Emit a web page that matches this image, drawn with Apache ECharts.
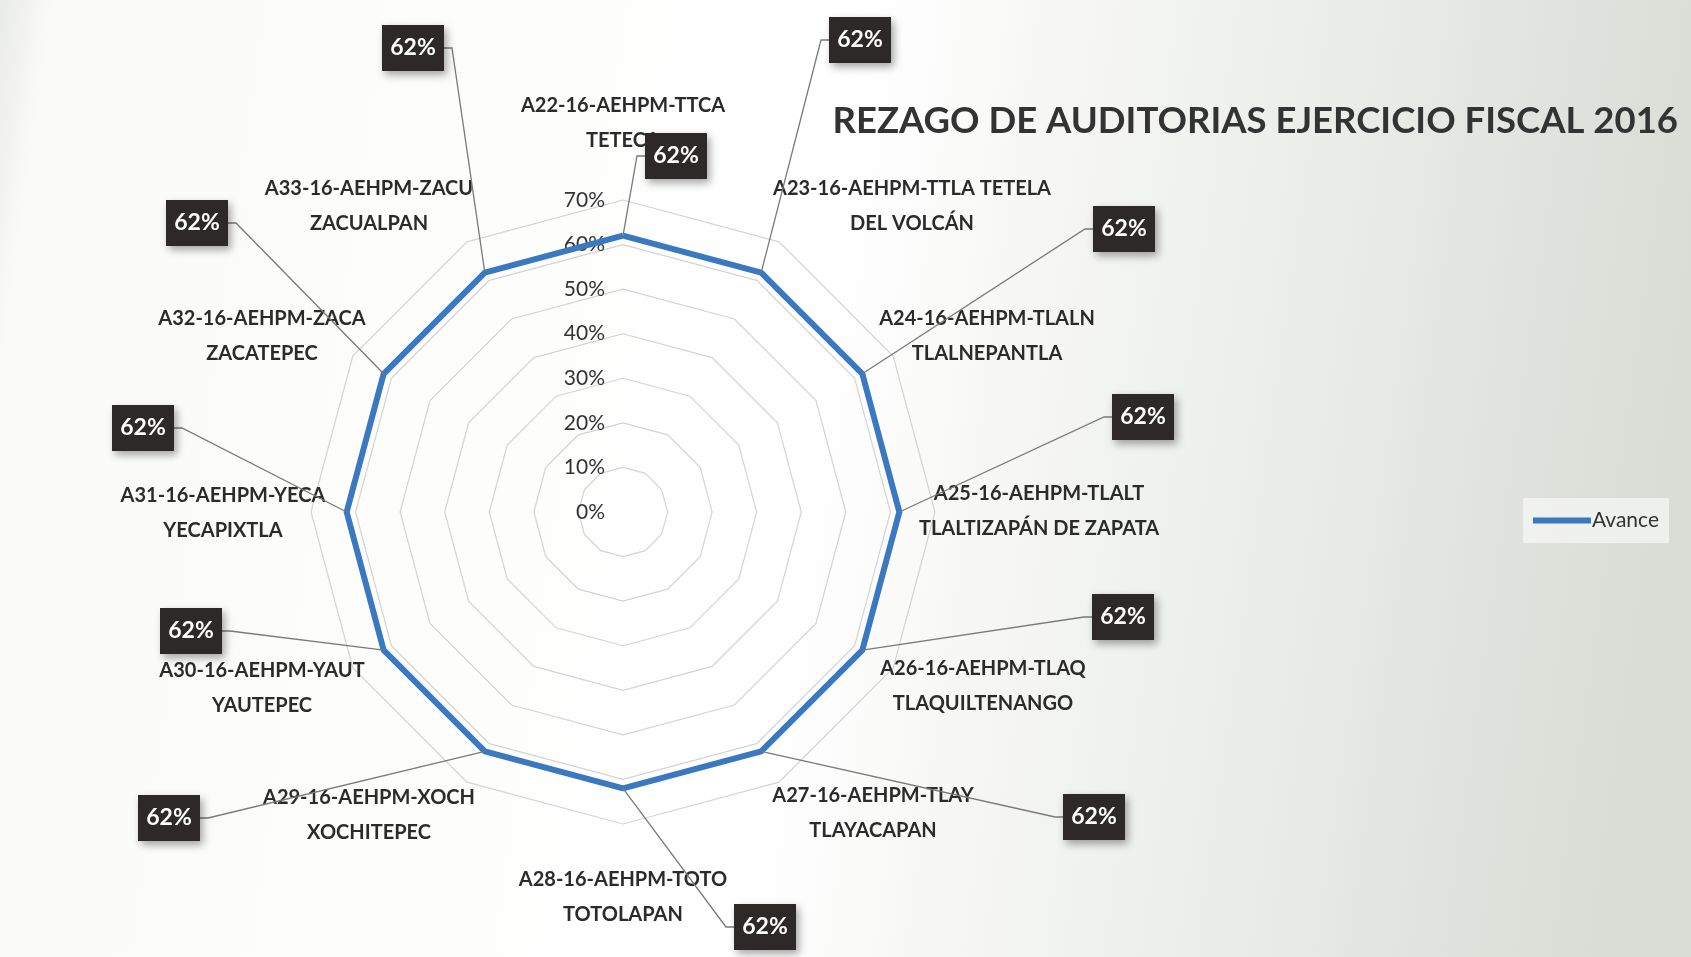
<!DOCTYPE html>
<html>
<head>
<meta charset="utf-8">
<title>Rezago de auditorias</title>
<script src="https://cdn.jsdelivr.net/npm/echarts@6/dist/echarts.min.js"></script>
<style>
  html, body { margin: 0; padding: 0; }
  #chart { width: 1691px; height: 957px; }
</style>
</head>
<body>
<div id="chart"></div>
<script>
// categories in clockwise order, starting at the top
const audits = [
  "A22-16-AEHPM-TTCA\nTETECA",
  "A23-16-AEHPM-TTLA TETELA\nDEL VOLCÁN",
  "A24-16-AEHPM-TLALN\nTLALNEPANTLA",
  "A25-16-AEHPM-TLALT\nTLALTIZAPÁN DE ZAPATA",
  "A26-16-AEHPM-TLAQ\nTLAQUILTENANGO",
  "A27-16-AEHPM-TLAY\nTLAYACAPAN",
  "A28-16-AEHPM-TOTO\nTOTOLAPAN",
  "A29-16-AEHPM-XOCH\nXOCHITEPEC",
  "A30-16-AEHPM-YAUT\nYAUTEPEC",
  "A31-16-AEHPM-YECA\nYECAPIXTLA",
  "A32-16-AEHPM-ZACA\nZACATEPEC",
  "A33-16-AEHPM-ZACU\nZACUALPAN"
];
const avance = [62, 62, 62, 62, 62, 62, 62, 62, 62, 62, 62, 62];
const scaleMax = 70;
const scaleStep = 10;

// layout only: px offsets from the chart centre for each category name and value box
const nameOffsets = [
  [0, -389], [289, -306], [364, -176], [416, -1], [360, 174], [250, 301],
  [0, 385], [-254, 303], [-361, 176], [-400, 1], [-361, -176], [-254, -306]
];
const boxOffsets = [
  [53, -356], [237, -472], [501, -283], [520, -95], [500, 105], [471, 305],
  [142, 415], [-454, 306], [-432, 119], [-480, -84], [-426, -289], [-210, -464]
];

const CENTER = [623, 512];
const RADIUS = 312;
const FONT = "Lato, 'Open Sans', sans-serif";

// radar lays indicators out counter-clockwise, so feed them reversed after the first
const order = audits.map((_, i) => (i === 0 ? 0 : audits.length - i));

function renderCategory(params, api) {
  const i = params.dataIndex;
  const p = api.coord([api.value(0), api.value(1)]);
  const c = api.coord([0, 0]);
  const bx = c[0] + boxOffsets[i][0];
  const by = c[1] + boxOffsets[i][1];
  const w = 62, h = 46;
  const edge = bx > p[0] ? bx - w / 2 : bx + w / 2;
  const elbow = bx > p[0] ? edge - 8 : edge + 8;
  return {
    type: "group",
    children: [
      {
        type: "text",
        x: c[0] + nameOffsets[i][0],
        y: c[1] + nameOffsets[i][1],
        style: {
          text: audits[i],
          fill: "#2b2b2b",
          font: "bold 20px " + FONT,
          lineHeight: 35,
          align: "center",
          verticalAlign: "middle"
        }
      },
      {
        type: "polyline",
        shape: { points: [p, [elbow, by], [edge, by]] },
        style: { stroke: "#7a7a7a", lineWidth: 1.3, fill: null }
      },
      {
        type: "rect",
        shape: { x: bx - w / 2, y: by - h / 2, width: w, height: h },
        style: {
          fill: "#2d2929",
          shadowBlur: 8,
          shadowOffsetX: 3,
          shadowOffsetY: 4,
          shadowColor: "rgba(0,0,0,0.35)"
        }
      },
      {
        type: "text",
        x: bx,
        y: by,
        style: {
          text: Math.round(api.value(0)) + "%",
          fill: "#fff",
          font: "bold 23px " + FONT,
          align: "center",
          verticalAlign: "middle"
        }
      }
    ]
  };
}

const chart = echarts.init(document.getElementById("chart"));

chart.setOption({
  backgroundColor: {
    type: "linear",
    x: 0,
    y: 0,
    x2: 1,
    y2: 0.25,
    colorStops: [
      { offset: 0, color: "#e9ebe7" },
      { offset: 0.03, color: "#fafaf8" },
      { offset: 0.5, color: "#ffffff" },
      { offset: 0.72, color: "#eff1ed" },
      { offset: 1, color: "#d9ddd6" }
    ]
  },
  title: {
    text: "REZAGO DE AUDITORIAS EJERCICIO FISCAL 2016",
    right: 8,
    top: 98,
    textStyle: {
      fontFamily: FONT,
      fontSize: 36.5,
      fontWeight: "bold",
      color: "#333"
    }
  },
  legend: {
    data: ["Avance"],
    right: 22,
    top: 498,
    icon: "rect",
    itemWidth: 58,
    itemHeight: 6,
    itemGap: 4,
    padding: [12, 10],
    backgroundColor: "rgba(255,255,255,0.55)",
    textStyle: { fontFamily: FONT, fontSize: 21, color: "#333", padding: [0, 0, 0, -4] }
  },
  radar: {
    center: CENTER,
    radius: RADIUS,
    startAngle: 90,
    shape: "polygon",
    splitNumber: scaleMax / scaleStep,
    indicator: order.map((k, j) => ({
      name: audits[k],
      min: 0,
      max: scaleMax,
      axisLabel: j === 0 ? { show: true } : undefined
    })),
    axisName: { show: false },
    axisLine: { show: false },
    axisTick: { show: false },
    axisLabel: {
      show: false,
      color: "#333",
      fontFamily: FONT,
      fontSize: 21,
      margin: 18,
      formatter: "{value}%"
    },
    splitLine: { lineStyle: { color: "#d4d4d4", width: 1.2 } },
    splitArea: { show: false }
  },
  polar: { center: CENTER, radius: RADIUS },
  angleAxis: { type: "value", min: 0, max: 360, startAngle: 90, clockwise: true, show: false },
  radiusAxis: { type: "value", min: 0, max: scaleMax, show: false },
  series: [
    {
      name: "Avance",
      type: "radar",
      symbol: "none",
      lineStyle: { color: "#3b78c2", width: 6 },
      itemStyle: { color: "#3b78c2" },
      data: [{ value: order.map((k) => avance[k]), name: "Avance" }]
    },
    {
      type: "custom",
      coordinateSystem: "polar",
      silent: true,
      z: 5,
      data: avance.map((v, i) => [v, (i * 360) / audits.length]),
      renderItem: renderCategory
    }
  ]
});

window.addEventListener("resize", () => chart.resize());
</script>
</body>
</html>
